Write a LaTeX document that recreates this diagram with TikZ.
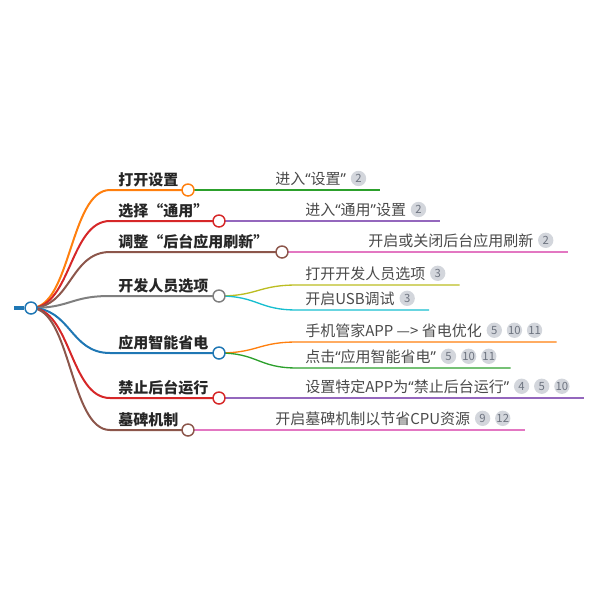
\documentclass[tikz,border=0pt]{standalone}
\usepackage{fontspec}
\setmainfont{Noto Sans CJK SC}
\newfontfamily\quotefont{Noto Sans}
\newcommand{\qopen}{{\quotefont “}}
\newcommand{\qclose}{{\quotefont ”}}
\usetikzlibrary{positioning}
\definecolor{tabblue}{HTML}{1F77B4}
\definecolor{taborange}{HTML}{FF7F0E}
\definecolor{tabgreen}{HTML}{2CA02C}
\definecolor{tabred}{HTML}{D62728}
\definecolor{tabpurple}{HTML}{9467BD}
\definecolor{tabbrown}{HTML}{8C564B}
\definecolor{tabpink}{HTML}{E377C2}
\definecolor{tabgrey}{HTML}{7F7F7F}
\definecolor{tabolive}{HTML}{BCBD22}
\definecolor{tabcyan}{HTML}{17BECF}
\definecolor{topictext}{HTML}{262626}
\definecolor{leaftext}{HTML}{4A4A4A}
\definecolor{badgefill}{HTML}{D3D6DC}
\definecolor{badgetext}{HTML}{6E7480}
\pgfdeclarelayer{bg}
\pgfsetlayers{bg,main}

\begin{document}
\begin{tikzpicture}[x=0.75pt, y=-0.75pt, node distance=3.2pt,
    topic/.style ={anchor=base west, inner sep=0pt, text=topictext,
      font=\fontsize{11.25}{13}\selectfont\bfseries},
    leaf/.style ={anchor=base west, inner sep=0pt, text=leaftext,
      font=\fontsize{11.25}{13}\selectfont},
    dot/.style ={circle, draw, fill=white, line width=1.1pt,
      minimum size=9pt, inner sep=0pt},
    badge/.style ={circle, fill=badgefill, text=badgetext, inner sep=0pt,
      minimum size=11.5pt, font=\fontsize{8.5}{9}\selectfont},
    link/.style ={line width=1.5pt},
    twig/.style ={line width=1pt}]
   \useasboundingbox (0,0) rectangle (600,600);

   % root
   \node[dot, draw=tabblue] (root) at (31,308) {};
   \coordinate (stub) at (14,308);

   % first level
   \coordinate (s1) at (110,190);
   \node[topic] (k1) at (118,185) {打开设置};
   \node[dot, draw=taborange] (d1) at (188,190) {};
   \coordinate (s2) at (110,221);
   \node[topic] (k2) at (118,216) {选择“通用”};
   \node[dot, draw=tabred] (d2) at (219,221) {};
   \coordinate (s3) at (110,252);
   \node[topic] (k3) at (118,247) {调整“后台应用刷新”};
   \node[dot, draw=tabbrown] (d3) at (282,252) {};
   \coordinate (s4) at (110,296);
   \node[topic] (k4) at (118,291) {开发人员选项};
   \node[dot, draw=tabgrey] (d4) at (219,296) {};
   \coordinate (s5) at (110,353);
   \node[topic] (k5) at (118,348) {应用智能省电};
   \node[dot, draw=tabblue] (d5) at (219,353) {};
   \coordinate (s6) at (110,398);
   \node[topic] (k6) at (118,393) {禁止后台运行};
   \node[dot, draw=tabred] (d6) at (219,398) {};
   \coordinate (s7) at (110,430);
   \node[topic] (k7) at (118,425) {墓碑机制};
   \node[dot, draw=tabbrown] (d7) at (188,430) {};

   % leaves
   \coordinate (s1a) at (266,190);
   \node[leaf] (l1a) at (275,184) {进入\qopen 设置\qclose};
   \node[badge, right=of l1a] (b1a) {2};
   \coordinate (s2a) at (297,221);
   \node[leaf] (l2a) at (305,215) {进入\qopen 通用\qclose 设置};
   \node[badge, right=of l2a] (b2a) {2};
   \coordinate (s3a) at (360,252);
   \node[leaf] (l3a) at (368,246) {开启或关闭后台应用刷新};
   \node[badge, right=of l3a] (b3a) {2};
   \coordinate (s4a) at (297,285);
   \node[leaf] (l4a) at (305,279) {打开开发人员选项};
   \node[badge, right=of l4a] (b4a) {3};
   \coordinate (s4b) at (297,310);
   \node[leaf] (l4b) at (305,304) {开启USB调试};
   \node[badge, right=of l4b] (b4b) {3};
   \coordinate (s5a) at (297,342);
   \node[leaf] (l5a) at (305,336) {手机管家APP —> 省电优化};
   \node[badge, right=of l5a] (b5a) {5};
   \node[badge, right=of b5a] (b5a2) {10};
   \node[badge, right=of b5a2] (b5a3) {11};
   \coordinate (s5b) at (297,368);
   \node[leaf] (l5b) at (305,362) {点击\qopen 应用智能省电\qclose};
   \node[badge, right=of l5b] (b5b) {5};
   \node[badge, right=of b5b] (b5b2) {10};
   \node[badge, right=of b5b2] (b5b3) {11};
   \coordinate (s6a) at (297,398);
   \node[leaf] (l6a) at (305,392) {设置特定APP为\qopen 禁止后台运行\qclose};
   \node[badge, right=of l6a] (b6a) {4};
   \node[badge, right=of b6a] (b6a2) {5};
   \node[badge, right=of b6a2] (b6a3) {10};
   \coordinate (s7a) at (266,430);
   \node[leaf] (l7a) at (275,424) {开启墓碑机制以节省CPU资源};
   \node[badge, right=of l7a] (b7a) {9};
   \node[badge, right=of b7a] (b7a2) {12};

   \begin{pgfonlayer}{bg}
   \draw[tabblue, line width=3.2pt] (stub) -- (root);
   \draw[link, taborange] (root.center) .. controls +(40,0) and +(-40,0) .. (s1) -- (d1.center);
   \draw[link, tabred] (root.center) .. controls +(40,0) and +(-40,0) .. (s2) -- (d2.center);
   \draw[link, tabbrown] (root.center) .. controls +(40,0) and +(-40,0) .. (s3) -- (d3.center);
   \draw[link, tabgrey] (root.center) .. controls +(40,0) and +(-40,0) .. (s4) -- (d4.center);
   \draw[link, tabblue] (root.center) .. controls +(40,0) and +(-40,0) .. (s5) -- (d5.center);
   \draw[link, tabred] (root.center) .. controls +(40,0) and +(-40,0) .. (s6) -- (d6.center);
   \draw[link, tabbrown] (root.center) .. controls +(40,0) and +(-40,0) .. (s7) -- (d7.center);
   \draw[twig, tabgreen] (d1.center) -- (s1a) -- (s1a -| b1a.east) -- ++(14,0);
   \draw[twig, tabpurple] (d2.center) -- (s2a) -- (s2a -| b2a.east) -- ++(14,0);
   \draw[twig, tabpink] (d3.center) -- (s3a) -- (s3a -| b3a.east) -- ++(14,0);
   \draw[twig, tabolive] (d4.center) .. controls +(39,0) and +(-39,0) .. (s4a) -- (s4a -| b4a.east) -- ++(14,0);
   \draw[twig, tabcyan] (d4.center) .. controls +(39,0) and +(-39,0) .. (s4b) -- (s4b -| b4b.east) -- ++(14,0);
   \draw[twig, taborange] (d5.center) .. controls +(39,0) and +(-39,0) .. (s5a) -- (s5a -| b5a3.east) -- ++(14,0);
   \draw[twig, tabgreen] (d5.center) .. controls +(39,0) and +(-39,0) .. (s5b) -- (s5b -| b5b3.east) -- ++(14,0);
   \draw[twig, tabpurple] (d6.center) -- (s6a) -- (s6a -| b6a3.east) -- ++(14,0);
   \draw[twig, tabpink] (d7.center) -- (s7a) -- (s7a -| b7a2.east) -- ++(14,0);
   \end{pgfonlayer}
 \end{tikzpicture}
\end{document}
